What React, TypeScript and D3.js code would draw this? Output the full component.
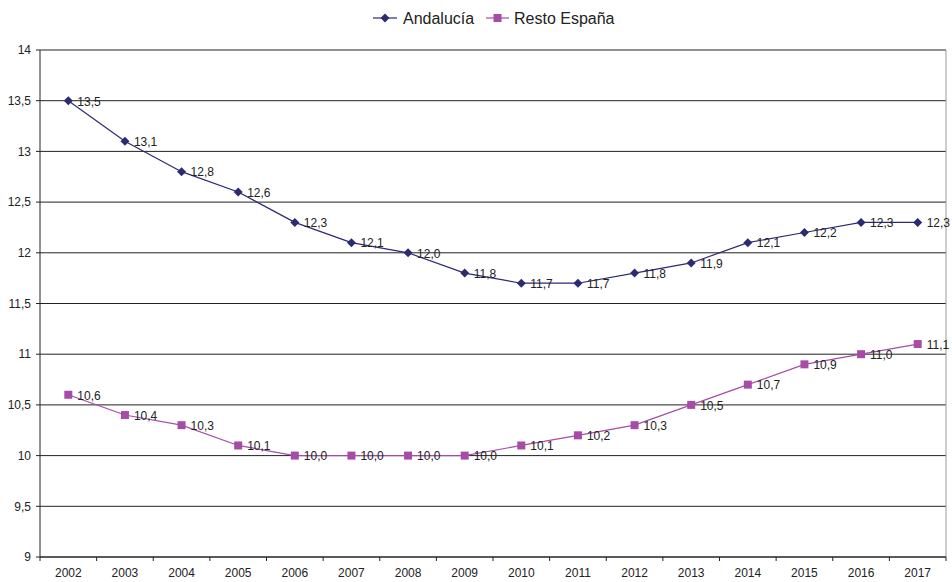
import React from "react";
import * as d3 from "d3";

const years = ["2002","2003","2004","2005","2006","2007","2008","2009","2010","2011","2012","2013","2014","2015","2016","2017"];
const andalucia = [13.5,13.1,12.8,12.6,12.3,12.1,12.0,11.8,11.7,11.7,11.8,11.9,12.1,12.2,12.3,12.3];
const restoEspana = [10.6,10.4,10.3,10.1,10.0,10.0,10.0,10.0,10.1,10.2,10.3,10.5,10.7,10.9,11.0,11.1];
const yTicks = [9,9.5,10,10.5,11,11.5,12,12.5,13,13.5,14];

const W = 952, H = 582;
const left = 40, right = 946, top = 50, bottom = 557;
const colA = "#2c2a72";
const colR = "#a64ca6";
const font = "Liberation Sans, Arial, sans-serif";

const fmt = (v: number) => v.toFixed(1).replace(".", ",");
const fmtTick = (v: number) => String(v).replace(".", ",");

export default function App() {
  const x = d3.scaleBand<string>().domain(years).range([left, right]);
  const cx = (d: string) => (x(d) as number) + x.bandwidth() / 2;
  const y = d3.scaleLinear().domain([9, 14]).range([bottom, top]);
  const line = d3.line<number>().x((_, i) => cx(years[i])).y((v) => y(v));

  const diamond = (px: number, py: number, k: string | number, c: string) => (
    <path key={k} d={`M${px},${py - 4.5}L${px + 4.5},${py}L${px},${py + 4.5}L${px - 4.5},${py}Z`} fill={c} />
  );
  const square = (px: number, py: number, k: string | number, c: string) => (
    <rect key={k} x={px - 4} y={py - 4} width={8} height={8} fill={c} />
  );

  return (
    <svg width={W} height={H} style={{ position: "absolute", left: 0, top: 0 }} fontFamily={font}>
      <rect x={0} y={0} width={W} height={H} fill="#fff" />
      {yTicks.map((t) => (
        <g key={t}>
          <line x1={left} x2={right} y1={y(t)} y2={y(t)} stroke="#222" strokeWidth={1} />
          <line x1={left - 4} x2={left} y1={y(t)} y2={y(t)} stroke="#222" />
          <text x={31} y={y(t)} dy="0.35em" textAnchor="end" fontSize={12} fill="#222">{fmtTick(t)}</text>
        </g>
      ))}
      <line x1={right} x2={right} y1={top} y2={bottom} stroke="#999" />
      <line x1={left} x2={left} y1={top} y2={bottom} stroke="#222" />
      <line x1={left} x2={right} y1={bottom} y2={bottom} stroke="#222" />
      {years.map((yr) => (
        <line key={"t" + yr} x1={(x(yr) as number) + x.bandwidth()} x2={(x(yr) as number) + x.bandwidth()} y1={bottom} y2={bottom + 4} stroke="#222" />
      ))}
      <line x1={left} x2={left} y1={bottom} y2={bottom + 4} stroke="#222" />
      {years.map((yr) => (
        <text key={"l" + yr} x={cx(yr)} y={577} textAnchor="middle" fontSize={12} fill="#222">{yr}</text>
      ))}
      <path d={line(andalucia) as string} fill="none" stroke={colA} strokeWidth={1.2} />
      <path d={line(restoEspana) as string} fill="none" stroke={colR} strokeWidth={1.2} />
      {andalucia.map((v, i) => diamond(cx(years[i]), y(v), "a" + i, colA))}
      {restoEspana.map((v, i) => square(cx(years[i]), y(v), "r" + i, colR))}
      {andalucia.map((v, i) => (
        <text key={"ta" + i} x={cx(years[i]) + 9} y={y(v)} dy="0.4em" fontSize={12} fill="#222">{fmt(v)}</text>
      ))}
      {restoEspana.map((v, i) => (
        <text key={"tr" + i} x={cx(years[i]) + 9} y={y(v)} dy="0.4em" fontSize={12} fill="#222">{fmt(v)}</text>
      ))}
      <g>
        <line x1={373} x2={397} y1={18} y2={18} stroke={colA} strokeWidth={1.2} />
        {diamond(385, 18, "ld", colA)}
        <text x={403} y={18} dy="0.35em" fontSize={16} fill="#222">Andalucía</text>
        <line x1={486} x2={509} y1={18} y2={18} stroke={colR} strokeWidth={1.2} />
        {square(497.5, 18, "ls", colR)}
        <text x={514} y={18} dy="0.35em" fontSize={16} fill="#222">Resto España</text>
      </g>
    </svg>
  );
}
